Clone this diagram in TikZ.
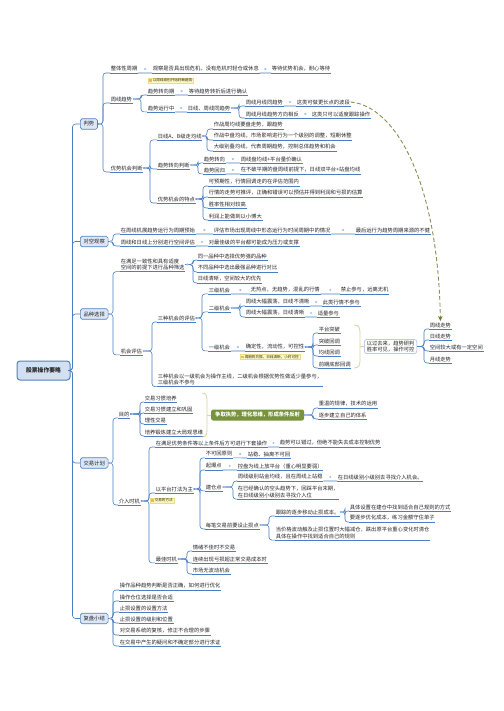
\documentclass[tikz,border=0pt]{standalone}
\usepackage{fontspec}
\setmainfont{Noto Sans CJK SC}
\usetikzlibrary{arrows.meta,calc}
\definecolor{lnblue}{HTML}{4A7EC2}
\definecolor{mkfill}{HTML}{A9C2E6}
\definecolor{txt}{HTML}{262626}
\definecolor{boxblue}{HTML}{4F81BD}
\definecolor{boxfill}{HTML}{DCE6F4}
\definecolor{rootfill}{HTML}{D3E0F2}
\definecolor{notefill}{HTML}{FFF6BE}
\definecolor{noteline}{HTML}{EEDB88}
\definecolor{noteicon}{HTML}{E2C245}
\definecolor{bracecol}{HTML}{DAD3A2}
\definecolor{sumgreen}{HTML}{77933C}
\definecolor{sumline}{HTML}{9EB3CF}
\definecolor{dashcol}{HTML}{8E8C55}
\definecolor{tipcol}{HTML}{6B7B2A}
\newcommand\mmfs{\fontsize{5.3}{6.4}\selectfont}
\newcommand\notefs{\fontsize{3.6}{4.2}\selectfont}
% a topic with its underline
\newcommand\tp[3]{\node[tp] (#1) at (#2) {#3};\draw[ul] (#1.south west) -- (#1.south east);}
% a topic that follows its parent on the same line
\newcommand\inl[2]{\draw[conn] (#1.south east) -- (#2.south west);\fill[mkfill] ($(#1.east)!.5!(#2.west)$) circle (1.2pt);}
% a branch from a parent to a child through a vertical line at x = #2
\newcommand\br[3]{\draw[conn] let \p1=(#1.east) in (\p1) -- (#2pt,\y1) |- (#3.south west);}
% the fold marker at the end of a parent
\newcommand\mkdot[1]{\fill[mkfill] ([xshift=2.2pt]#1.east) circle (1.2pt);}
\begin{document}
\begin{tikzpicture}[x=1pt,y=-1pt,
  tp/.style={anchor=west,inner xsep=0.6pt,inner ysep=1.3pt,text=txt,align=left,font=\mmfs},
  ul/.style={draw=lnblue,line width=0.6pt},
  conn/.style={draw=lnblue,line width=0.6pt,rounded corners=3pt},
  lone/.style={anchor=west,draw=boxblue,fill=boxfill,rounded corners=1.8pt,inner xsep=3.3pt,inner ysep=0pt,minimum height=10.5pt,text=txt,font=\mmfs,line width=0.6pt},
  rootbox/.style={draw=boxblue,fill=rootfill,rounded corners=3pt,line width=1pt,minimum width=53pt,minimum height=19pt,text=txt,font=\fontsize{5.8}{7}\selectfont\bfseries},
  notebox/.style={anchor=west,fill=notefill,draw=noteline,line width=0.3pt,inner xsep=1.2pt,inner ysep=1pt,text=txt,font=\notefs},
  brc/.style={draw=bracecol,line width=0.8pt},
  greenbox/.style={anchor=west,fill=sumgreen,rounded corners=2pt,inner xsep=4pt,inner ysep=0pt,minimum height=11pt,text=white,font=\mmfs\bfseries},
  sumbox/.style={anchor=west,draw=sumline,rounded corners=3pt,line width=0.5pt,inner xsep=2.5pt,inner ysep=1.5pt,text=txt,align=left,font=\mmfs},
  dasharr/.style={draw=dashcol,line width=0.9pt,dash pattern=on 4pt off 2.5pt,-{Stealth[length=5pt,width=4.5pt,color=tipcol]}}
]
\fill[white] (0,0) rectangle (503,711);
\useasboundingbox (0,0) rectangle (503,711);

% ---------- root and main topics ----------
\node[rootbox] (root) at (43.5,370.5) {股票操作要略};
\node[lone] (pan) at (80,124) {判势};
\node[lone] (dui) at (80,241.5) {对空观察};
\node[lone] (pin) at (80,314) {品种选择};
\node[lone] (jiao) at (80,463) {交易计划};
\node[lone] (fu) at (80,618.5) {复盘小结};
\foreach \n in {pan,dui,pin,jiao,fu} {\draw[conn] (root.east) -- ++(2,0) |- (\n.west);}

% ---------- 判势 ----------
\tp{a1}{110,69}{整体性周期}
\tp{a1a}{152,69}{观察是否具出现危机，没有危机时轻仓或休息}
\tp{a1b}{271,69}{等待优势机会，耐心等待}
\inl{a1}{a1a}\inl{a1a}{a1b}
\tp{a2}{110,99}{周线趋势}
\node[notebox] (n1) at (148,80.5) {{\color{noteicon}\rule{2.6pt}{2.6pt}}\ 以周线级别开始判断趋势};
\tp{a2a}{147,91}{趋势转向期}
\tp{a2ai}{188,91}{等待趋势转折后进行确认}
\inl{a2a}{a2ai}
\tp{a2b}{147,108}{趋势运行中}
\tp{a2bi}{187,108}{日线、周线同趋势}
\inl{a2b}{a2bi}
\tp{a2b1}{245,102}{周线月线同趋势}
\tp{a2b1i}{296,102}{这类可做更长点的波段}
\inl{a2b1}{a2b1i}
\tp{a2b2}{245,114}{周线月线趋势方向相反}
\tp{a2b2i}{311,114}{这类只可以适度跟踪操作}
\inl{a2b2}{a2b2i}
\foreach \c in {a2b1,a2b2} {\br{a2bi}{239}{\c}}
\mkdot{a2bi}
\foreach \c in {a2a,a2b} {\br{a2}{141}{\c}}
\mkdot{a2}
\tp{a3}{110,168}{优势机会判断}
\tp{a3a}{157,136}{日线A、B级走均线}
\tp{a3a1}{213,125}{作战周均线要盘走势，跟趋势}
\tp{a3a2}{213,136}{作战中盘均线，市场影响进行为一个级别的调整，短期休整}
\tp{a3a3}{213,147}{大级别叠均线，代表周期趋势，控制总体趋势和机会}
\foreach \c in {a3a1,a3a2,a3a3} {\br{a3a}{207}{\c}}
\mkdot{a3a}
\tp{a3b}{157,165}{趋势转向判断}
\tp{a3b1}{203,159}{趋势转向}
\tp{a3b1i}{240,159}{周线盘均线+平台量价确认}
\inl{a3b1}{a3b1i}
\tp{a3b2}{203,170}{趋势回归}
\tp{a3b2i}{240,170}{在不破平期的盘周线前提下，日线双平台+站盘均线}
\inl{a3b2}{a3b2i}
\foreach \c in {a3b1,a3b2} {\br{a3b}{198}{\c}}
\mkdot{a3b}
\tp{a3c}{157,199}{优势机会的特点}
\tp{a3c1}{208,182}{可预期性，行情回调走的在评估范围内}
\tp{a3c2}{208,193}{行情的走势可推评，正确和错误可以预估并得到利润和亏损的估算}
\tp{a3c3}{208,204}{胜率性相对较高}
\tp{a3c4}{208,216}{利润上能做到以小博大}
\foreach \c in {a3c1,a3c2,a3c3,a3c4} {\br{a3c}{203}{\c}}
\mkdot{a3c}
\foreach \c in {a3a,a3b,a3c} {\br{a3}{150}{\c}}
\mkdot{a3}
\foreach \c in {a1,a2,a3} {\br{pan}{103}{\c}}
\mkdot{pan}

% ---------- 对空观察 ----------
\tp{b1}{120,230}{在周线机展趋势运行为周期预始}
\tp{b1i}{213,230}{评估市场出现周线中形态运行为时间周期中的情况}
\tp{b1ii}{355,230}{最后运行为趋势周期来源的不健}
\inl{b1}{b1i}\inl{b1i}{b1ii}
\tp{b2}{120,242}{周线和日线上分别进行空间评估}
\tp{b2i}{208,242}{对最佳级的平台都可能成为压力或支撑}
\inl{b2}{b2i}
\foreach \c in {b1,b2} {\br{dui}{113}{\c}}
\mkdot{dui}

% ---------- 品种选择 ----------
\tp{c1}{120,264.5}{在满足一致性和具有适度\\空间的前提下进行品种筛选}
\tp{c1a}{197,256}{同一品种中选择优势强的品种}
\tp{c1b}{197,268}{不同品种中选出最强品种进行对比}
\tp{c1c}{197,279}{日线清晰，空间较大的优先}
\foreach \c in {c1a,c1b,c1c} {\br{c1}{193}{\c}}
\mkdot{c1}
\tp{c2}{120,351}{机会评估}
\tp{c2a}{157,318}{三种机会的评估}
\tp{c2a1}{208,290}{三级机会}
\tp{c2a1i}{250,290}{无热点，无趋势，混乱的行情}
\tp{c2a1ii}{340,290}{禁止参与，远离无机}
\inl{c2a1}{c2a1i}\inl{c2a1i}{c2a1ii}
\tp{c2a2}{208,308}{二级机会}
\tp{c2a21}{245,302}{周线大幅震荡，日线不清晰}
\tp{c2a21i}{322,302}{此类行情不参与}
\inl{c2a21}{c2a21i}
\tp{c2a22}{245,313}{周线大幅震荡，日线清晰}
\tp{c2a22i}{317,313}{适量参与}
\inl{c2a22}{c2a22i}
\foreach \c in {c2a21,c2a22} {\br{c2a2}{240}{\c}}
\mkdot{c2a2}
\tp{c2a3}{208,347}{一级机会}
\tp{c2a3i}{245,347}{确定性，流动性，可控性}
\inl{c2a3}{c2a3i}
\node[notebox] (n2) at (240,356.8) {{\color{noteicon}\rule{2.6pt}{2.6pt}}\ 周期的共振，日线清晰，小时可控};
\tp{p1}{318,329}{平台突破}
\tp{p2}{318,341}{突破回调}
\tp{p3}{318,352}{均线回调}
\tp{p4}{318,364}{前期底部回调}
\foreach \c in {p1,p2,p3,p4} {\br{c2a3i}{313}{\c}}
\mkdot{c2a3i}
\draw[brc] (354,325) .. controls (359,325) and (360,328) .. (360,333) -- (360,360) .. controls (360,365) and (359,368) .. (354,368);
\coordinate (tipa) at (360,346.5);
\node[sumbox] (sa) at (364,346.5) {以过去来，趋势研判\\胜率可见，操作可控};
\draw[brc] (tipa) -- (sa.west);
\tp{z1}{429,325}{周线走势}
\tp{z2}{429,336}{日线走势}
\tp{z3}{429,347}{空间较大或有一定空间}
\tp{z4}{429,359}{月线走势}
\foreach \c in {z1,z2,z3,z4} {\br{sa}{424}{\c}}
\foreach \c in {c2a1,c2a2,c2a3} {\br{c2a}{202}{\c}}
\mkdot{c2a}
\tp{c2b}{157,379.5}{三种机会以一级机会为操作主线，二级机会根据优势性做适少量参与，\\三级机会不参与}
\foreach \c in {c2a,c2b} {\br{c2}{152}{\c}}
\mkdot{c2}
\foreach \c in {c1,c2} {\br{pin}{113}{\c}}
\mkdot{pin}

% ---------- 交易计划 ----------
\tp{d1}{118,414}{目的}
\tp{d1a}{144,398}{交易习惯培养}
\tp{d1b}{144,409}{交易习惯建立和巩固}
\tp{d1c}{144,420}{理性交易}
\tp{d1d}{144,432}{培养锻炼建立大局观思维}
\foreach \c in {d1a,d1b,d1c,d1d} {\br{d1}{140}{\c}}
\mkdot{d1}
\draw[brc] (202,393) .. controls (206,393) and (207,396) .. (207,400) -- (207,430) .. controls (207,434) and (206,437) .. (202,437);
\coordinate (tipb) at (207,415);
\node[greenbox] (g) at (211,415) {争取执势，理化思维，形成条件反射};
\draw[brc] (tipb) -- (g.west);
\tp{g1}{318,404}{重温的规律，技术的运用}
\tp{g2}{318,415}{逐步建立自己的体系}
\foreach \c in {g1,g2} {\br{g}{313}{\c}}
\mkdot{g}

\tp{d2}{118,501}{介入时机}
\tp{e1}{155,443}{在满足优势条件等以上条件后方可进行下套操作}
\tp{e1i}{279,443}{趋势可以错过，但绝不能失去成本控制优势}
\inl{e1}{e1i}
\tp{e2}{155,489}{以平台打法为主}
\node[notebox] (n3) at (150,500.5) {{\color{noteicon}\rule{2.6pt}{2.6pt}}\ 交易的方法};
\tp{f1}{205,454}{不可回原则}
\tp{f1i}{247,454}{站稳、抽离不可回}
\inl{f1}{f1i}
\tp{f2}{205,466}{起爆点}
\tp{f2i}{237,466}{控盘为线上放平台（重心明显要弱）}
\inl{f2}{f2i}
\tp{f3}{205,487}{建仓点}
\tp{f31}{237,477}{周线级别站金均线，且在周线上站稳}
\tp{f31i}{337,477}{在日线级别小级别去寻找介入机会。}
\inl{f31}{f31i}
\tp{f32}{237,492}{在已经确认的空头趋势下，回踩平台末期，\\在日线级别小级别去寻找介入位}
\foreach \c in {f31,f32} {\br{f3}{233}{\c}}
\mkdot{f3}
\tp{f4}{205,525}{每笔交易前要设止损点}
\tp{f41}{275,512}{跟踪的逐步移动止损成本。}
\tp{f411}{349,507}{具体设置在建仓中找到适合自己规则的方式}
\tp{f412}{349,518}{要逐步优化成本，练习金额守住单子}
\foreach \c in {f411,f412} {\br{f41}{345}{\c}}
\mkdot{f41}
\tp{f42}{275,533}{当价格波动触及止损位置时大幅减仓，跌出原平台重心变化时清仓\\具体在操作中找到适合自己的规则}
\foreach \c in {f41,f42} {\br{f4}{269}{\c}}
\mkdot{f4}
\foreach \c in {f1,f2,f3,f4} {\br{e2}{200}{\c}}
\mkdot{e2}
\tp{e3}{155,559}{最佳时机}
\tp{h1}{192,547}{情绪不佳时不交易}
\tp{h2}{192,559}{连续出现亏损超正常交易成本时}
\tp{h3}{192,570}{市场无波动机会}
\foreach \c in {h1,h2,h3} {\br{e3}{187}{\c}}
\mkdot{e3}
\foreach \c in {e1,e2,e3} {\br{d2}{149}{\c}}
\mkdot{d2}
\foreach \c in {d1,d2} {\br{jiao}{113}{\c}}
\mkdot{jiao}

% ---------- 复盘小结 ----------
\tp{r1}{119,586}{操作品种趋势判断是否正确，如何进行优化}
\tp{r2}{119,597}{操作仓位选择是否合适}
\tp{r3}{119,608}{止损设置的设置方法}
\tp{r4}{119,619}{止损设置的级别和位置}
\tp{r5}{119,631}{对交易系统的复核，修正不合理的步骤}
\tp{r6}{119,642}{在交易中产生的疑问和不确定部分进行求证}
\foreach \c in {r1,r2,r3,r4,r5,r6} {\br{fu}{113}{\c}}
\mkdot{fu}

% ---------- cross link ----------
\draw[dasharr] (a2b1i.east) .. controls (395,106) and (438,180) .. (z1.north);
\end{tikzpicture}
\end{document}
